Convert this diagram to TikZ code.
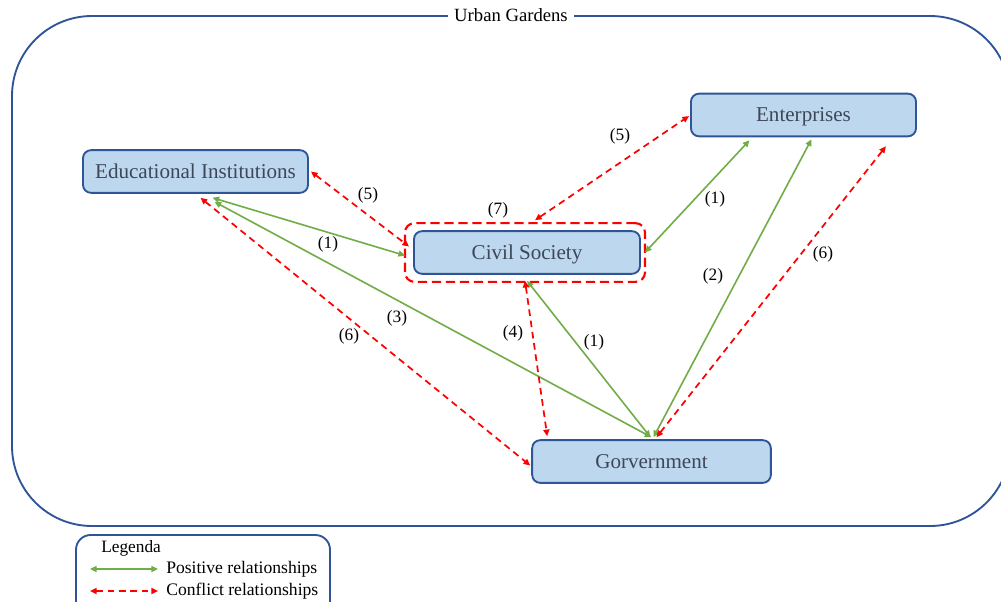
\documentclass[tikz,border=0pt]{standalone}
\usepackage{fontspec}
\setmainfont{Liberation Serif}
\usetikzlibrary{arrows.meta,calc}
\definecolor{boxfill}{HTML}{BDD7EE}
\definecolor{boxline}{HTML}{2F5597}
\definecolor{boxtext}{HTML}{3E4756}
\definecolor{pos}{HTML}{70AD47}
\definecolor{cfl}{HTML}{FF0000}
\begin{document}
\begin{tikzpicture}[x=0.75pt,y=-0.75pt,
  actor/.style={draw=boxline,line width=1.4pt,fill=boxfill,rounded corners=6pt,
    minimum height=32pt,text=boxtext,font=\fontsize{15.8}{17}\selectfont,inner sep=0pt,
    text depth=0pt},
  posrel/.style={draw=pos,line width=1.2pt,{Triangle[length=5pt,width=4.5pt]}-{Triangle[length=5pt,width=4.5pt]}},
  conrel/.style={draw=cfl,line width=1.3pt,dash pattern=on 5pt off 3.5pt,{Triangle[length=5pt,width=4.5pt]}-{Triangle[length=5pt,width=4.5pt]}},
  lbl/.style={font=\fontsize{13}{15}\selectfont,inner sep=1pt}]
\useasboundingbox (0,0) rectangle (1001,601);
\fill[white] (0,0) rectangle (1001,601);
% outer frame
\draw[boxline,line width=1.4pt,rounded corners=60pt] (12,16) rectangle (1010,526);
\node[fill=white,inner sep=5pt,font=\fontsize{14}{16}\selectfont] (title) at (511,15) {Urban Gardens};
% actors
\node[actor,minimum width=168.75pt] (ei) at (195.5,171.5) {Educational Institutions};
\node[actor,minimum width=168.75pt] (ent) at (803.5,115) {Enterprises};
\node[actor,minimum width=169.5pt] (cs) at (527,252.5) {Civil Society};
\node[actor,minimum width=179pt] (gov) at (651.5,461.5) {Gorvernment};
\node[draw=cfl,line width=1.6pt,dash pattern=on 7pt off 3.5pt,rounded corners=7pt,
  minimum width=180pt,minimum height=44pt] (csbox) at (525,252.5) {};
% positive relationships
\draw[posrel] ($(ei.south)+(17,4)$) -- ($(cs.west)+(-8,3)$);
\draw[posrel] ($(ei.south)+(19,8)$) -- ($(gov.north)+(0,-2)$);
\draw[posrel] ($(cs.south)+(0,6)$) -- ($(gov.north)+(-1,-2)$);
\draw[posrel] ($(ent.south)+(-54,3)$) -- ($(cs.east)+(4,0)$);
\draw[posrel] ($(ent.south)+(8,2)$) -- ($(gov.north)+(2,-2)$);
% conflict relationships
\draw[conrel] ($(ei.east)+(2,0)$) -- ($(cs.west)+(-4,-6)$);
\draw[conrel] ($(cs.north)+(8,-10)$) -- ($(ent.west)+(-1,1)$);
\draw[conrel] ($(ei.south)+(5,4)$) -- ($(gov.west)+(-1,4)$);
\draw[conrel] ($(cs.south)+(-2,6)$) -- ($(gov.north west)+(16,-3)$);
\draw[conrel] ($(gov.north)+(5,-2)$) -- ($(ent.south east)+(-31,9)$);
% labels
\node[lbl] (l1) at (328,244) {(1)};
\node[lbl] (l3) at (397,318) {(3)};
\node[lbl] (l6a) at (349,336) {(6)};
\node[lbl] (l5a) at (368,195) {(5)};
\node[lbl] (l5b) at (620,136) {(5)};
\node[lbl] (l7) at (498,210) {(7)};
\node[lbl] (l4) at (513,333) {(4)};
\node[lbl] (l1b) at (594,342) {(1)};
\node[lbl] (l1c) at (715,199) {(1)};
\node[lbl] (l2) at (713,276) {(2)};
\node[lbl] (l6b) at (823,254) {(6)};
% legend
\draw[boxline,line width=1.4pt,rounded corners=11pt] (76,535) rectangle (330,625);
\node[anchor=west,font=\fontsize{13}{15}\selectfont,inner sep=0pt] (leg) at (101,548) {Legenda};
\coordinate (pa) at (90,569);
\coordinate (pb) at (158,569);
\coordinate (ca) at (90,591);
\coordinate (cb) at (158,591);
\draw[posrel] (pa) -- (pb);
\draw[conrel] (ca) -- (cb);
\node[anchor=west,font=\fontsize{13.2}{15}\selectfont,inner sep=0pt] (legp) at (166,569) {Positive relationships};
\node[anchor=west,font=\fontsize{13.2}{15}\selectfont,inner sep=0pt] (legc) at (166,591) {Conflict relationships};
\end{tikzpicture}
\end{document}
